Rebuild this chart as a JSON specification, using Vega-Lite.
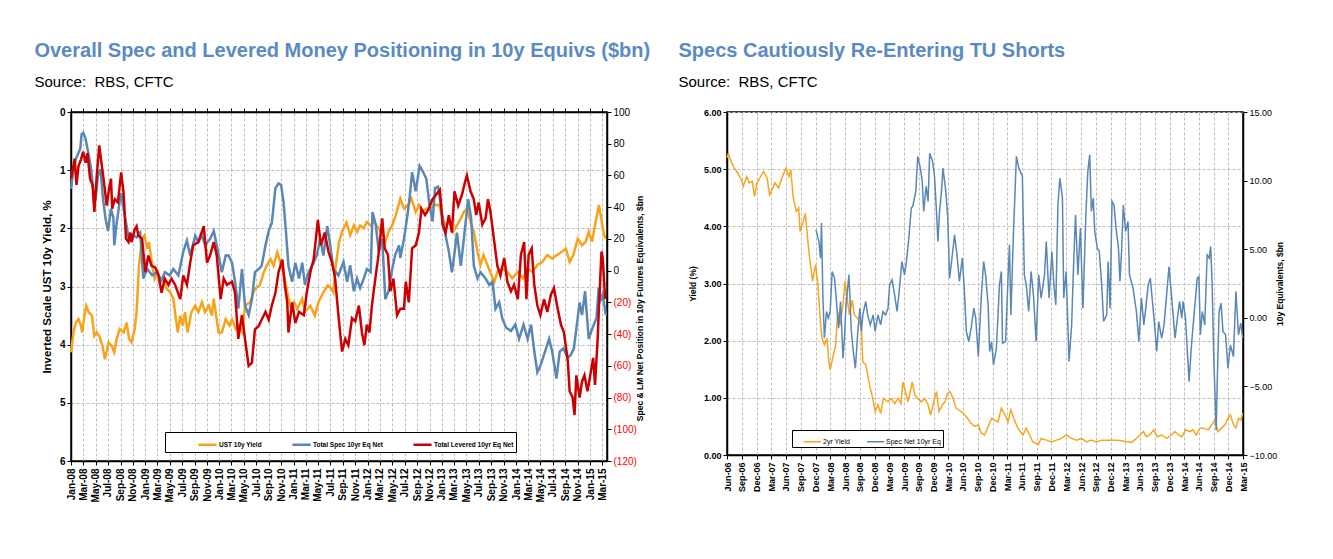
{
"$schema":"https://vega.github.io/schema/vega-lite/v6.json",
"padding":{"left":33,"top":40,"right":5,"bottom":5},
"config":{"font":"Liberation Sans","view":{"stroke":"black","strokeWidth":1.5},
 "axis":{"domainColor":"black","domainWidth":1.5,"tickColor":"black","labelColor":"black","titleColor":"black","labelFont":"Liberation Sans","titleFont":"Liberation Sans"},
 "title":{"anchor":"start","frame":"bounds","font":"Liberation Sans","fontSize":20,"fontWeight":"bold","color":"#5A8AC4","subtitleFont":"Liberation Sans","subtitleFontSize":15,"subtitleColor":"black","subtitlePadding":14,"dx":-7}},
"datasets":{
"ust":[{"date":"2008-01-01","v":4.13},{"date":"2008-01-13","v":3.79},{"date":"2008-01-25","v":3.62},{"date":"2008-02-07","v":3.56},{"date":"2008-02-19","v":3.67},{"date":"2008-02-25","v":3.79},{"date":"2008-03-07","v":3.5},{"date":"2008-03-16","v":3.33},{"date":"2008-03-28","v":3.44},{"date":"2008-04-13","v":3.5},{"date":"2008-04-25","v":3.85},{"date":"2008-05-07","v":3.79},{"date":"2008-05-19","v":3.85},{"date":"2008-06-04","v":4.02},{"date":"2008-06-16","v":4.25},{"date":"2008-07-04","v":3.96},{"date":"2008-07-19","v":4.02},{"date":"2008-08-01","v":4.13},{"date":"2008-08-13","v":3.9},{"date":"2008-08-28","v":3.73},{"date":"2008-09-16","v":3.79},{"date":"2008-10-01","v":3.62},{"date":"2008-10-13","v":3.9},{"date":"2008-10-25","v":3.96},{"date":"2008-11-10","v":3.73},{"date":"2008-11-19","v":3.44},{"date":"2008-12-01","v":2.64},{"date":"2008-12-16","v":2.18},{"date":"2008-12-28","v":2.12},{"date":"2009-01-10","v":2.35},{"date":"2009-01-19","v":2.24},{"date":"2009-02-04","v":2.64},{"date":"2009-02-16","v":2.87},{"date":"2009-03-04","v":2.76},{"date":"2009-03-13","v":2.93},{"date":"2009-04-01","v":2.87},{"date":"2009-04-16","v":3.04},{"date":"2009-05-04","v":3.1},{"date":"2009-05-19","v":3.21},{"date":"2009-06-01","v":3.56},{"date":"2009-06-10","v":3.79},{"date":"2009-06-22","v":3.5},{"date":"2009-07-04","v":3.67},{"date":"2009-07-16","v":3.44},{"date":"2009-07-28","v":3.79},{"date":"2009-08-16","v":3.44},{"date":"2009-09-04","v":3.33},{"date":"2009-09-19","v":3.44},{"date":"2009-10-07","v":3.27},{"date":"2009-10-22","v":3.44},{"date":"2009-11-10","v":3.33},{"date":"2009-11-25","v":3.5},{"date":"2009-12-04","v":3.21},{"date":"2009-12-16","v":3.5},{"date":"2009-12-28","v":3.79},{"date":"2010-01-13","v":3.79},{"date":"2010-02-01","v":3.56},{"date":"2010-02-19","v":3.67},{"date":"2010-03-04","v":3.56},{"date":"2010-03-22","v":3.73},{"date":"2010-04-07","v":3.67},{"date":"2010-04-25","v":3.79},{"date":"2010-05-07","v":3.33},{"date":"2010-06-01","v":3.27},{"date":"2010-06-25","v":3.04},{"date":"2010-07-19","v":2.98},{"date":"2010-08-07","v":2.76},{"date":"2010-08-22","v":2.64},{"date":"2010-09-10","v":2.53},{"date":"2010-09-25","v":2.64},{"date":"2010-10-13","v":2.41},{"date":"2010-10-28","v":2.58},{"date":"2010-11-13","v":2.76},{"date":"2010-12-01","v":3.1},{"date":"2010-12-16","v":3.33},{"date":"2011-01-04","v":3.27},{"date":"2011-01-19","v":3.39},{"date":"2011-02-13","v":3.21},{"date":"2011-02-26","v":3.44},{"date":"2011-03-25","v":3.33},{"date":"2011-04-16","v":3.5},{"date":"2011-05-04","v":3.27},{"date":"2011-05-28","v":3.1},{"date":"2011-06-19","v":2.98},{"date":"2011-07-07","v":3.04},{"date":"2011-07-16","v":3.1},{"date":"2011-07-28","v":2.64},{"date":"2011-08-13","v":2.24},{"date":"2011-08-28","v":2.06},{"date":"2011-09-19","v":1.9},{"date":"2011-10-07","v":2.12},{"date":"2011-10-25","v":1.95},{"date":"2011-11-10","v":2.06},{"date":"2011-11-25","v":1.95},{"date":"2011-12-13","v":2.0},{"date":"2011-12-28","v":1.89},{"date":"2012-01-16","v":1.95},{"date":"2012-02-01","v":1.89},{"date":"2012-02-25","v":2.0},{"date":"2012-03-13","v":2.12},{"date":"2012-03-28","v":2.23},{"date":"2012-04-13","v":2.06},{"date":"2012-05-01","v":1.95},{"date":"2012-05-19","v":1.77},{"date":"2012-06-10","v":1.49},{"date":"2012-06-28","v":1.66},{"date":"2012-07-19","v":1.6},{"date":"2012-08-04","v":1.49},{"date":"2012-08-25","v":1.72},{"date":"2012-09-10","v":1.6},{"date":"2012-09-25","v":1.72},{"date":"2012-10-16","v":1.66},{"date":"2012-11-07","v":1.66},{"date":"2012-11-22","v":1.6},{"date":"2012-12-19","v":1.6},{"date":"2013-01-04","v":1.83},{"date":"2013-01-19","v":1.95},{"date":"2013-02-10","v":1.89},{"date":"2013-02-25","v":2.06},{"date":"2013-03-16","v":1.95},{"date":"2013-04-04","v":1.83},{"date":"2013-04-19","v":1.72},{"date":"2013-05-04","v":1.66},{"date":"2013-05-22","v":1.89},{"date":"2013-06-07","v":2.06},{"date":"2013-06-25","v":2.4},{"date":"2013-07-10","v":2.63},{"date":"2013-07-25","v":2.46},{"date":"2013-08-13","v":2.63},{"date":"2013-09-01","v":2.8},{"date":"2013-09-16","v":2.92},{"date":"2013-10-01","v":2.75},{"date":"2013-10-25","v":2.69},{"date":"2013-11-19","v":2.75},{"date":"2013-12-13","v":2.86},{"date":"2014-01-10","v":2.75},{"date":"2014-02-04","v":2.86},{"date":"2014-02-27","v":2.69},{"date":"2014-03-22","v":2.75},{"date":"2014-04-16","v":2.63},{"date":"2014-05-10","v":2.58},{"date":"2014-06-04","v":2.46},{"date":"2014-06-28","v":2.52},{"date":"2014-07-22","v":2.46},{"date":"2014-08-16","v":2.4},{"date":"2014-09-04","v":2.35},{"date":"2014-09-22","v":2.58},{"date":"2014-10-10","v":2.46},{"date":"2014-11-01","v":2.18},{"date":"2014-11-22","v":2.29},{"date":"2014-12-10","v":2.23},{"date":"2014-12-25","v":2.06},{"date":"2015-01-10","v":2.23},{"date":"2015-01-25","v":1.95},{"date":"2015-02-13","v":1.6},{"date":"2015-02-25","v":1.83},{"date":"2015-03-04","v":2.0},{"date":"2015-03-16","v":2.18}],
"spec":[{"date":"2008-01-01","v":51.6},{"date":"2008-01-13","v":64},{"date":"2008-01-25","v":70.5},{"date":"2008-02-16","v":77},{"date":"2008-02-22","v":86},{"date":"2008-03-01","v":87},{"date":"2008-03-13","v":83},{"date":"2008-03-25","v":75},{"date":"2008-04-07","v":66},{"date":"2008-04-19","v":52},{"date":"2008-05-01","v":45},{"date":"2008-05-13","v":60},{"date":"2008-05-25","v":64},{"date":"2008-06-07","v":45},{"date":"2008-06-19","v":33},{"date":"2008-07-01","v":25},{"date":"2008-07-16","v":39},{"date":"2008-07-28","v":33},{"date":"2008-08-01","v":16},{"date":"2008-08-13","v":30},{"date":"2008-08-25","v":41},{"date":"2008-09-04","v":49},{"date":"2008-09-19","v":37},{"date":"2008-10-10","v":21},{"date":"2008-10-25","v":23},{"date":"2008-11-19","v":21},{"date":"2008-12-07","v":24},{"date":"2008-12-22","v":-5},{"date":"2009-01-10","v":1},{"date":"2009-02-04","v":-3},{"date":"2009-02-27","v":-1},{"date":"2009-03-22","v":-6},{"date":"2009-04-07","v":-1},{"date":"2009-05-01","v":-3},{"date":"2009-05-19","v":1},{"date":"2009-06-13","v":-3},{"date":"2009-07-07","v":12},{"date":"2009-07-25","v":19},{"date":"2009-08-10","v":9.5},{"date":"2009-09-04","v":22},{"date":"2009-09-19","v":18},{"date":"2009-10-07","v":22},{"date":"2009-10-22","v":16},{"date":"2009-11-16","v":20},{"date":"2009-12-04","v":25},{"date":"2009-12-19","v":16},{"date":"2010-01-13","v":-1},{"date":"2010-02-01","v":9.5},{"date":"2010-02-15","v":9.5},{"date":"2010-03-04","v":5},{"date":"2010-03-19","v":-7},{"date":"2010-04-04","v":-24},{"date":"2010-04-22","v":1},{"date":"2010-05-07","v":-22},{"date":"2010-05-25","v":-28},{"date":"2010-06-10","v":-18},{"date":"2010-06-25","v":-1},{"date":"2010-07-13","v":1},{"date":"2010-07-28","v":3},{"date":"2010-08-16","v":16},{"date":"2010-09-01","v":25},{"date":"2010-09-16","v":30},{"date":"2010-10-04","v":52},{"date":"2010-10-19","v":55},{"date":"2010-11-01","v":54},{"date":"2010-11-13","v":43},{"date":"2010-11-25","v":24},{"date":"2010-12-07","v":3},{"date":"2010-12-25","v":-7},{"date":"2011-01-10","v":5},{"date":"2011-01-28","v":-5},{"date":"2011-02-13","v":5},{"date":"2011-02-26","v":-9},{"date":"2011-03-16","v":-1},{"date":"2011-04-10","v":5},{"date":"2011-04-25","v":9.5},{"date":"2011-05-13","v":20},{"date":"2011-05-28","v":9.5},{"date":"2011-06-16","v":28},{"date":"2011-07-01","v":16},{"date":"2011-07-16","v":1},{"date":"2011-08-10","v":-3},{"date":"2011-09-04","v":5.5},{"date":"2011-09-22","v":-7},{"date":"2011-10-07","v":3.4},{"date":"2011-10-25","v":-13},{"date":"2011-11-10","v":-5},{"date":"2011-11-25","v":-11},{"date":"2011-12-13","v":-5},{"date":"2011-12-28","v":1},{"date":"2012-01-16","v":-1},{"date":"2012-01-25","v":37},{"date":"2012-02-10","v":29},{"date":"2012-02-25","v":12},{"date":"2012-03-13","v":20},{"date":"2012-03-28","v":-18},{"date":"2012-04-13","v":-13},{"date":"2012-05-01","v":1},{"date":"2012-05-16","v":10},{"date":"2012-06-04","v":16},{"date":"2012-06-10","v":8},{"date":"2012-06-28","v":20},{"date":"2012-07-13","v":33},{"date":"2012-07-25","v":45},{"date":"2012-08-07","v":62},{"date":"2012-08-25","v":50},{"date":"2012-09-13","v":66},{"date":"2012-10-01","v":62},{"date":"2012-10-16","v":58},{"date":"2012-11-01","v":41},{"date":"2012-11-16","v":31},{"date":"2012-11-28","v":52},{"date":"2012-12-13","v":53},{"date":"2013-01-01","v":37},{"date":"2013-01-16","v":24},{"date":"2013-02-04","v":12},{"date":"2013-02-19","v":-1},{"date":"2013-03-01","v":8},{"date":"2013-03-16","v":24},{"date":"2013-04-04","v":3},{"date":"2013-04-19","v":20},{"date":"2013-05-10","v":45},{"date":"2013-05-25","v":33},{"date":"2013-06-07","v":3},{"date":"2013-06-25","v":-5},{"date":"2013-07-10","v":-1},{"date":"2013-08-04","v":-5},{"date":"2013-08-22","v":-9},{"date":"2013-09-07","v":-7},{"date":"2013-09-22","v":-24},{"date":"2013-10-10","v":-20},{"date":"2013-10-25","v":-30},{"date":"2013-11-13","v":-36},{"date":"2013-12-07","v":-38},{"date":"2013-12-28","v":-34},{"date":"2014-01-16","v":-43},{"date":"2014-02-07","v":-34},{"date":"2014-02-27","v":-43},{"date":"2014-03-16","v":-34},{"date":"2014-04-01","v":-51},{"date":"2014-04-16","v":-64},{"date":"2014-05-01","v":-60},{"date":"2014-05-19","v":-53},{"date":"2014-06-13","v":-43},{"date":"2014-06-28","v":-51},{"date":"2014-07-19","v":-68},{"date":"2014-08-04","v":-51},{"date":"2014-08-22","v":-49},{"date":"2014-09-13","v":-55},{"date":"2014-09-28","v":-53},{"date":"2014-10-13","v":-49},{"date":"2014-11-10","v":-20},{"date":"2014-11-22","v":-28},{"date":"2014-12-07","v":-13},{"date":"2014-12-25","v":-43},{"date":"2015-01-13","v":-36},{"date":"2015-02-01","v":-30},{"date":"2015-02-12","v":-11},{"date":"2015-02-23","v":-18},{"date":"2015-03-04","v":-15},{"date":"2015-03-19","v":-28}],
"lev":[{"date":"2008-01-01","v":58},{"date":"2008-01-13","v":66},{"date":"2008-01-19","v":70.5},{"date":"2008-01-28","v":54},{"date":"2008-02-07","v":66},{"date":"2008-02-19","v":70},{"date":"2008-03-01","v":75},{"date":"2008-03-13","v":68},{"date":"2008-03-22","v":74},{"date":"2008-04-04","v":58},{"date":"2008-04-16","v":54},{"date":"2008-04-25","v":37},{"date":"2008-05-07","v":60},{"date":"2008-05-19","v":79},{"date":"2008-06-01","v":66},{"date":"2008-06-13","v":54},{"date":"2008-06-25","v":41},{"date":"2008-07-07","v":52},{"date":"2008-07-16","v":58},{"date":"2008-07-22","v":39},{"date":"2008-08-04","v":45},{"date":"2008-08-19","v":43},{"date":"2008-09-04","v":62},{"date":"2008-09-16","v":49},{"date":"2008-09-28","v":20},{"date":"2008-10-10","v":18},{"date":"2008-10-19","v":24},{"date":"2008-10-25","v":18},{"date":"2008-11-10","v":26},{"date":"2008-11-19","v":28},{"date":"2008-11-28","v":22},{"date":"2008-12-16","v":20},{"date":"2009-01-01","v":-1},{"date":"2009-01-16","v":9.5},{"date":"2009-02-01","v":3},{"date":"2009-02-19","v":2},{"date":"2009-03-07","v":-3},{"date":"2009-03-22","v":-14},{"date":"2009-04-07","v":-5},{"date":"2009-04-25","v":-9},{"date":"2009-05-10","v":-5},{"date":"2009-05-28","v":-9},{"date":"2009-06-22","v":-18},{"date":"2009-07-07","v":-3},{"date":"2009-07-25","v":-9},{"date":"2009-08-10","v":5},{"date":"2009-08-25","v":16},{"date":"2009-09-19","v":18},{"date":"2009-10-16","v":28},{"date":"2009-11-01","v":5},{"date":"2009-11-16","v":9.5},{"date":"2009-12-04","v":18},{"date":"2009-12-19","v":9.5},{"date":"2010-01-07","v":-18},{"date":"2010-01-22","v":-5},{"date":"2010-02-07","v":-9},{"date":"2010-03-04","v":-7},{"date":"2010-03-19","v":-14},{"date":"2010-04-04","v":-43},{"date":"2010-04-22","v":-28},{"date":"2010-05-07","v":-43},{"date":"2010-05-25","v":-60},{"date":"2010-06-10","v":-58},{"date":"2010-06-25","v":-37},{"date":"2010-07-13","v":-35},{"date":"2010-07-28","v":-31},{"date":"2010-08-16","v":-26},{"date":"2010-09-01","v":-31},{"date":"2010-09-16","v":-22},{"date":"2010-10-04","v":-14},{"date":"2010-10-19","v":-1},{"date":"2010-11-07","v":7},{"date":"2010-11-19","v":-9},{"date":"2010-12-01","v":-20},{"date":"2010-12-07","v":-39},{"date":"2010-12-25","v":-20},{"date":"2011-01-10","v":-33},{"date":"2011-01-28","v":-26},{"date":"2011-02-21","v":-28},{"date":"2011-03-07","v":-14},{"date":"2011-03-25","v":-1},{"date":"2011-04-10","v":7},{"date":"2011-05-01","v":32},{"date":"2011-05-16","v":16},{"date":"2011-06-04","v":24},{"date":"2011-06-22","v":12},{"date":"2011-07-10","v":5},{"date":"2011-07-25","v":-5},{"date":"2011-08-10","v":-28},{"date":"2011-08-28","v":-51},{"date":"2011-09-13","v":-43},{"date":"2011-09-28","v":-47},{"date":"2011-10-16","v":-30},{"date":"2011-11-01","v":-32},{"date":"2011-11-19","v":-22},{"date":"2011-12-04","v":-39},{"date":"2011-12-16","v":-47},{"date":"2011-12-28","v":-34},{"date":"2012-01-10","v":-39},{"date":"2012-01-22","v":-22},{"date":"2012-02-10","v":-3},{"date":"2012-02-22","v":8},{"date":"2012-03-13","v":33},{"date":"2012-03-25","v":14},{"date":"2012-04-10","v":10},{"date":"2012-04-22","v":-13},{"date":"2012-05-07","v":-5},{"date":"2012-05-25","v":-28},{"date":"2012-06-10","v":-24},{"date":"2012-06-28","v":-24},{"date":"2012-07-07","v":-7},{"date":"2012-07-22","v":-20},{"date":"2012-08-07","v":14},{"date":"2012-08-25","v":16},{"date":"2012-09-10","v":24},{"date":"2012-09-22","v":39},{"date":"2012-10-10","v":35},{"date":"2012-10-28","v":39},{"date":"2012-11-16","v":45},{"date":"2012-12-04","v":48},{"date":"2012-12-22","v":51},{"date":"2013-01-04","v":29},{"date":"2013-01-19","v":24},{"date":"2013-02-04","v":35},{"date":"2013-02-19","v":24},{"date":"2013-03-04","v":50},{"date":"2013-03-22","v":41},{"date":"2013-04-10","v":48},{"date":"2013-04-25","v":56},{"date":"2013-05-04","v":60},{"date":"2013-05-22","v":50},{"date":"2013-06-07","v":45},{"date":"2013-06-19","v":35},{"date":"2013-07-01","v":43},{"date":"2013-07-19","v":29},{"date":"2013-08-04","v":33},{"date":"2013-08-16","v":45},{"date":"2013-08-28","v":37},{"date":"2013-09-16","v":18},{"date":"2013-10-01","v":3},{"date":"2013-10-16","v":-3},{"date":"2013-11-04","v":8},{"date":"2013-11-19","v":-7},{"date":"2013-12-07","v":-13},{"date":"2013-12-22","v":-9},{"date":"2014-01-10","v":-18},{"date":"2014-01-25","v":10},{"date":"2014-02-10","v":18},{"date":"2014-02-21","v":-18},{"date":"2014-03-04","v":10},{"date":"2014-03-19","v":14},{"date":"2014-04-01","v":-9},{"date":"2014-04-16","v":-22},{"date":"2014-05-01","v":-28},{"date":"2014-05-19","v":-18},{"date":"2014-06-04","v":-26},{"date":"2014-06-22","v":-15},{"date":"2014-07-07","v":-11},{"date":"2014-07-22","v":-22},{"date":"2014-08-10","v":-34},{"date":"2014-08-25","v":-39},{"date":"2014-09-13","v":-57},{"date":"2014-09-22","v":-76},{"date":"2014-10-07","v":-80},{"date":"2014-10-16","v":-91},{"date":"2014-10-25","v":-66},{"date":"2014-11-10","v":-80},{"date":"2014-11-22","v":-70},{"date":"2014-12-04","v":-66},{"date":"2014-12-19","v":-76},{"date":"2015-01-04","v":-64},{"date":"2015-01-16","v":-55},{"date":"2015-01-25","v":-72},{"date":"2015-02-07","v":-43},{"date":"2015-02-15","v":-18},{"date":"2015-02-26","v":12},{"date":"2015-03-04","v":8},{"date":"2015-03-16","v":-18}],
"y2":[{"date":"2006-06-01","v":5.2},{"date":"2006-06-10","v":5.28},{"date":"2006-06-25","v":5.14},{"date":"2006-07-16","v":5.02},{"date":"2006-08-07","v":4.93},{"date":"2006-08-28","v":4.82},{"date":"2006-09-10","v":4.7},{"date":"2006-10-01","v":4.87},{"date":"2006-10-16","v":4.76},{"date":"2006-11-04","v":4.79},{"date":"2006-11-19","v":4.52},{"date":"2006-12-01","v":4.73},{"date":"2006-12-22","v":4.85},{"date":"2007-01-13","v":4.96},{"date":"2007-02-04","v":4.85},{"date":"2007-02-19","v":4.55},{"date":"2007-03-07","v":4.64},{"date":"2007-03-25","v":4.76},{"date":"2007-04-16","v":4.67},{"date":"2007-05-07","v":4.85},{"date":"2007-06-01","v":5.02},{"date":"2007-06-19","v":4.87},{"date":"2007-07-01","v":4.99},{"date":"2007-07-16","v":4.5},{"date":"2007-08-04","v":4.26},{"date":"2007-08-19","v":4.32},{"date":"2007-08-28","v":3.91},{"date":"2007-09-13","v":4.06},{"date":"2007-09-29","v":4.23},{"date":"2007-10-13","v":3.79},{"date":"2007-10-28","v":3.39},{"date":"2007-11-13","v":3.04},{"date":"2007-12-01","v":3.33},{"date":"2007-12-16","v":2.98},{"date":"2007-12-28","v":2.45},{"date":"2008-01-10","v":2.04},{"date":"2008-01-25","v":1.93},{"date":"2008-02-10","v":2.04},{"date":"2008-02-22","v":1.63},{"date":"2008-03-01","v":1.49},{"date":"2008-03-16","v":1.69},{"date":"2008-04-04","v":1.93},{"date":"2008-04-16","v":2.51},{"date":"2008-05-01","v":2.28},{"date":"2008-05-19","v":2.63},{"date":"2008-06-01","v":3.04},{"date":"2008-06-19","v":2.63},{"date":"2008-06-28","v":2.45},{"date":"2008-07-16","v":2.71},{"date":"2008-07-28","v":2.45},{"date":"2008-08-19","v":2.39},{"date":"2008-09-10","v":2.22},{"date":"2008-09-19","v":1.63},{"date":"2008-10-07","v":1.58},{"date":"2008-10-19","v":1.4},{"date":"2008-11-04","v":1.17},{"date":"2008-11-22","v":0.96},{"date":"2008-12-04","v":0.76},{"date":"2008-12-22","v":0.88},{"date":"2009-01-07","v":0.73},{"date":"2009-01-25","v":0.99},{"date":"2009-02-22","v":0.93},{"date":"2009-03-13","v":0.99},{"date":"2009-04-04","v":0.9},{"date":"2009-04-25","v":0.99},{"date":"2009-05-13","v":0.9},{"date":"2009-05-25","v":1.28},{"date":"2009-06-10","v":1.11},{"date":"2009-06-25","v":0.93},{"date":"2009-07-10","v":1.11},{"date":"2009-07-22","v":1.28},{"date":"2009-08-07","v":1.05},{"date":"2009-08-25","v":0.99},{"date":"2009-09-16","v":0.93},{"date":"2009-10-07","v":0.99},{"date":"2009-10-28","v":0.88},{"date":"2009-11-13","v":0.7},{"date":"2009-11-28","v":0.88},{"date":"2009-12-19","v":1.11},{"date":"2010-01-04","v":0.76},{"date":"2010-01-25","v":0.88},{"date":"2010-02-10","v":0.93},{"date":"2010-02-27","v":1.08},{"date":"2010-03-13","v":1.11},{"date":"2010-04-01","v":0.99},{"date":"2010-04-19","v":0.82},{"date":"2010-05-22","v":0.76},{"date":"2010-06-22","v":0.67},{"date":"2010-07-22","v":0.55},{"date":"2010-08-13","v":0.5},{"date":"2010-09-04","v":0.53},{"date":"2010-09-22","v":0.38},{"date":"2010-10-13","v":0.35},{"date":"2010-11-04","v":0.5},{"date":"2010-11-25","v":0.64},{"date":"2010-12-13","v":0.61},{"date":"2011-01-04","v":0.58},{"date":"2011-01-25","v":0.82},{"date":"2011-02-16","v":0.7},{"date":"2011-03-07","v":0.58},{"date":"2011-03-25","v":0.79},{"date":"2011-04-16","v":0.61},{"date":"2011-05-07","v":0.47},{"date":"2011-06-07","v":0.35},{"date":"2011-06-28","v":0.47},{"date":"2011-07-19","v":0.35},{"date":"2011-08-07","v":0.23},{"date":"2011-09-10","v":0.18},{"date":"2011-09-28","v":0.29},{"date":"2011-11-01","v":0.26},{"date":"2011-12-01","v":0.23},{"date":"2012-01-01","v":0.26},{"date":"2012-02-01","v":0.29},{"date":"2012-03-01","v":0.35},{"date":"2012-04-04","v":0.29},{"date":"2012-05-04","v":0.26},{"date":"2012-06-04","v":0.29},{"date":"2012-07-04","v":0.23},{"date":"2012-08-04","v":0.26},{"date":"2012-09-04","v":0.23},{"date":"2012-10-07","v":0.26},{"date":"2012-11-07","v":0.26},{"date":"2012-12-07","v":0.26},{"date":"2013-01-07","v":0.26},{"date":"2013-02-07","v":0.25},{"date":"2013-03-10","v":0.23},{"date":"2013-04-10","v":0.22},{"date":"2013-05-10","v":0.29},{"date":"2013-06-01","v":0.35},{"date":"2013-06-22","v":0.41},{"date":"2013-07-10","v":0.32},{"date":"2013-08-01","v":0.35},{"date":"2013-08-25","v":0.44},{"date":"2013-09-16","v":0.32},{"date":"2013-10-13","v":0.35},{"date":"2013-11-13","v":0.29},{"date":"2013-12-13","v":0.35},{"date":"2014-01-04","v":0.41},{"date":"2014-01-25","v":0.35},{"date":"2014-02-15","v":0.32},{"date":"2014-03-10","v":0.44},{"date":"2014-04-07","v":0.41},{"date":"2014-04-25","v":0.44},{"date":"2014-05-16","v":0.35},{"date":"2014-06-07","v":0.47},{"date":"2014-06-28","v":0.47},{"date":"2014-07-28","v":0.44},{"date":"2014-08-19","v":0.53},{"date":"2014-09-07","v":0.61},{"date":"2014-09-28","v":0.41},{"date":"2014-10-19","v":0.47},{"date":"2014-11-10","v":0.53},{"date":"2014-11-28","v":0.64},{"date":"2014-12-13","v":0.7},{"date":"2015-01-01","v":0.53},{"date":"2015-01-16","v":0.47},{"date":"2015-02-01","v":0.64},{"date":"2015-02-15","v":0.61},{"date":"2015-02-27","v":0.73}],
"sn":[{"date":"2007-12-04","v":6.42},{"date":"2007-12-22","v":5.56},{"date":"2008-01-01","v":4.35},{"date":"2008-01-07","v":6.9},{"date":"2008-01-16","v":1.43},{"date":"2008-01-25","v":-1.49},{"date":"2008-02-07","v":0.46},{"date":"2008-02-18","v":-0.03},{"date":"2008-03-01","v":0.46},{"date":"2008-03-13","v":3.38},{"date":"2008-03-28","v":2.89},{"date":"2008-04-07","v":1.43},{"date":"2008-04-22","v":-0.76},{"date":"2008-05-04","v":1.19},{"date":"2008-05-19","v":-2.95},{"date":"2008-05-28","v":-1.49},{"date":"2008-06-07","v":0.94},{"date":"2008-06-25","v":3.13},{"date":"2008-07-10","v":-1.0},{"date":"2008-07-22","v":-2.46},{"date":"2008-08-04","v":-3.68},{"date":"2008-08-19","v":-1.0},{"date":"2008-09-01","v":0.7},{"date":"2008-09-10","v":-1.0},{"date":"2008-09-19","v":0.21},{"date":"2008-10-07","v":1.19},{"date":"2008-10-19","v":0.21},{"date":"2008-11-04","v":-0.52},{"date":"2008-11-22","v":0.21},{"date":"2008-12-04","v":-1.0},{"date":"2008-12-22","v":0.21},{"date":"2009-01-07","v":-0.52},{"date":"2009-01-22","v":0.46},{"date":"2009-02-07","v":0.21},{"date":"2009-02-22","v":0.7},{"date":"2009-03-04","v":2.4},{"date":"2009-03-19","v":2.77},{"date":"2009-04-04","v":1.67},{"date":"2009-04-19","v":0.46},{"date":"2009-05-04","v":2.16},{"date":"2009-05-19","v":4.1},{"date":"2009-06-04","v":3.13},{"date":"2009-06-16","v":4.1},{"date":"2009-07-01","v":5.81},{"date":"2009-07-16","v":8.0},{"date":"2009-07-25","v":8.12},{"date":"2009-08-13","v":9.21},{"date":"2009-08-25","v":11.77},{"date":"2009-09-10","v":10.91},{"date":"2009-09-22","v":9.94},{"date":"2009-10-01","v":7.75},{"date":"2009-10-16","v":9.58},{"date":"2009-10-28","v":8.48},{"date":"2009-11-07","v":12.0},{"date":"2009-11-25","v":11.4},{"date":"2009-12-07","v":10.3},{"date":"2009-12-19","v":7.75},{"date":"2009-12-28","v":5.56},{"date":"2010-01-07","v":7.75},{"date":"2010-01-19","v":9.21},{"date":"2010-01-28","v":10.91},{"date":"2010-02-15","v":9.21},{"date":"2010-02-27","v":7.27},{"date":"2010-03-10","v":2.89},{"date":"2010-03-25","v":4.35},{"date":"2010-04-10","v":6.05},{"date":"2010-04-25","v":4.59},{"date":"2010-05-10","v":2.65},{"date":"2010-05-28","v":4.35},{"date":"2010-06-10","v":1.92},{"date":"2010-06-22","v":-1.0},{"date":"2010-07-07","v":-1.73},{"date":"2010-07-22","v":-0.76},{"date":"2010-08-07","v":0.7},{"date":"2010-08-19","v":-0.03},{"date":"2010-09-04","v":-2.83},{"date":"2010-09-22","v":1.43},{"date":"2010-10-07","v":4.1},{"date":"2010-10-19","v":3.13},{"date":"2010-11-04","v":0.94},{"date":"2010-11-13","v":-2.46},{"date":"2010-11-25","v":-1.73},{"date":"2010-12-07","v":-3.43},{"date":"2010-12-25","v":-2.22},{"date":"2011-01-13","v":2.4},{"date":"2011-01-25","v":3.38},{"date":"2011-02-01","v":-1.85},{"date":"2011-02-20","v":-1.73},{"date":"2011-03-07","v":2.89},{"date":"2011-03-16","v":5.32},{"date":"2011-03-25","v":0.21},{"date":"2011-04-10","v":6.29},{"date":"2011-04-28","v":11.77},{"date":"2011-05-13","v":10.91},{"date":"2011-06-04","v":10.3},{"date":"2011-06-16","v":3.13},{"date":"2011-06-28","v":2.4},{"date":"2011-07-13","v":0.46},{"date":"2011-07-28","v":3.38},{"date":"2011-08-13","v":1.43},{"date":"2011-08-28","v":-1.73},{"date":"2011-09-13","v":3.13},{"date":"2011-09-28","v":1.43},{"date":"2011-10-19","v":3.13},{"date":"2011-10-30","v":5.56},{"date":"2011-11-16","v":1.43},{"date":"2011-12-04","v":4.83},{"date":"2011-12-16","v":2.4},{"date":"2011-12-28","v":0.94},{"date":"2012-01-10","v":8.24},{"date":"2012-01-22","v":10.19},{"date":"2012-02-07","v":8.73},{"date":"2012-02-15","v":1.43},{"date":"2012-03-01","v":3.38},{"date":"2012-03-19","v":-3.19},{"date":"2012-04-04","v":-0.52},{"date":"2012-04-16","v":3.86},{"date":"2012-04-28","v":7.51},{"date":"2012-05-13","v":3.13},{"date":"2012-05-28","v":6.54},{"date":"2012-06-13","v":0.7},{"date":"2012-07-01","v":7.51},{"date":"2012-07-13","v":10.67},{"date":"2012-07-25","v":11.89},{"date":"2012-08-04","v":7.75},{"date":"2012-08-16","v":8.73},{"date":"2012-08-25","v":6.29},{"date":"2012-09-10","v":5.08},{"date":"2012-09-22","v":4.83},{"date":"2012-10-07","v":2.4},{"date":"2012-10-19","v":-0.27},{"date":"2012-11-07","v":0.21},{"date":"2012-11-16","v":4.1},{"date":"2012-11-28","v":0.7},{"date":"2012-12-10","v":8.48},{"date":"2012-12-22","v":8.24},{"date":"2013-01-04","v":6.54},{"date":"2013-01-19","v":5.08},{"date":"2013-01-28","v":2.65},{"date":"2013-02-07","v":4.83},{"date":"2013-02-18","v":8.24},{"date":"2013-03-04","v":6.29},{"date":"2013-03-19","v":7.02},{"date":"2013-03-28","v":3.13},{"date":"2013-04-19","v":2.16},{"date":"2013-05-10","v":0.46},{"date":"2013-05-25","v":-1.73},{"date":"2013-06-10","v":1.43},{"date":"2013-06-25","v":-0.52},{"date":"2013-07-07","v":0.7},{"date":"2013-07-22","v":2.4},{"date":"2013-08-04","v":2.89},{"date":"2013-08-25","v":0.21},{"date":"2013-09-13","v":-2.46},{"date":"2013-09-25","v":-0.27},{"date":"2013-10-13","v":-1.49},{"date":"2013-10-28","v":-0.52},{"date":"2013-11-13","v":1.67},{"date":"2013-11-28","v":3.74},{"date":"2013-12-13","v":1.67},{"date":"2014-01-04","v":-1.49},{"date":"2014-01-19","v":-0.03},{"date":"2014-02-01","v":1.19},{"date":"2014-02-15","v":-0.03},{"date":"2014-02-23","v":1.19},{"date":"2014-03-10","v":-0.03},{"date":"2014-04-01","v":-4.65},{"date":"2014-04-16","v":-1.98},{"date":"2014-05-07","v":0.94},{"date":"2014-05-22","v":2.89},{"date":"2014-06-01","v":3.01},{"date":"2014-06-10","v":-1.24},{"date":"2014-06-22","v":0.46},{"date":"2014-07-07","v":-0.52},{"date":"2014-07-22","v":4.59},{"date":"2014-08-04","v":4.35},{"date":"2014-08-13","v":5.2},{"date":"2014-08-22","v":2.4},{"date":"2014-09-01","v":-2.95},{"date":"2014-09-16","v":-8.18},{"date":"2014-09-22","v":-4.89},{"date":"2014-10-04","v":0.46},{"date":"2014-10-16","v":1.07},{"date":"2014-10-28","v":-1.0},{"date":"2014-11-13","v":-1.24},{"date":"2014-11-28","v":-3.68},{"date":"2014-12-13","v":-1.98},{"date":"2015-01-01","v":-2.83},{"date":"2015-01-16","v":1.92},{"date":"2015-02-01","v":-1.24},{"date":"2015-02-15","v":-0.39},{"date":"2015-02-27","v":-1.49}]
},
"hconcat":[
{"width":536,"height":349,
 "title":{"text":"Overall Spec and Levered Money Positioning in 10y Equivs ($bn)","subtitle":"Source:\u00a0 RBS, CFTC","offset":17},
 "layer":[
  {"data":{"name":"ust"},"mark":{"type":"line","strokeWidth":2.5},
   "encoding":{
    "x":{"field":"date","type":"temporal","scale":{"type":"utc","nice":false,"domain":[{"year":2008,"month":1,"date":1,"utc":true},{"year":2015,"month":3,"date":25,"utc":true}]},
      "axis":{"title":null,"format":"%b-%y","tickCount":{"interval":"month","step":2},"labelAngle":270,"labelFontSize":10,"labelFontWeight":"bold","labelOverlap":false,"labelPadding":3,"tickSize":4,"grid":true,"gridColor":"#BDBDBD","gridDash":[3,2]}},
    "y":{"field":"v","type":"quantitative","scale":{"domain":[0,6],"reverse":true,"nice":false,"zero":false},
      "axis":{"title":"Inverted Scale UST 10y Yield, %","titleFontSize":11.5,"titleFontWeight":"bold","titlePadding":7,"values":[0,1,2,3,4,5,6],"format":"d","labelFontSize":10,"labelFontWeight":"bold","labelOverlap":false,"tickSize":4,"grid":true,"gridColor":"#BDBDBD","gridDash":[3,2]}},
    "color":{"datum":"UST 10y Yield","type":"nominal","scale":{"domain":["UST 10y Yield","Total Spec 10yr Eq Net","Total Levered 10yr Eq Net"],"range":["#F8A31B","#5A87B6","#CC0000"]},
      "legend":{"orient":"none","legendX":94,"legendY":320,"direction":"horizontal","title":" ","titleOrient":"left","titlePadding":30,"titleFontSize":6,"strokeColor":"black","fillColor":"white","padding":2,"symbolType":"stroke","symbolSize":330,"symbolStrokeWidth":2.5,"labelFontSize":6.5,"labelFontWeight":"bold","labelOffset":1,"columnPadding":25}}}},
  {"layer":[
   {"data":{"name":"spec"},"mark":{"type":"line","strokeWidth":2.5},
    "encoding":{
     "x":{"field":"date","type":"temporal","axis":{"orient":"top","labels":false,"title":null,"tickCount":{"interval":"month","step":2},"tickSize":4,"grid":false}},
     "y":{"field":"v","type":"quantitative","scale":{"domain":[-120,100],"nice":false,"zero":false},
       "axis":{"orient":"right","title":"Spec & LM Net Position in 10y Futures Equivalents, $bn","titleAngle":270,"titleFontSize":8.5,"titleFontWeight":"bold","titlePadding":8,"titleY":196,"values":[-120,-100,-80,-60,-40,-20,0,20,40,60,80,100],"labelOverlap":false,"labelExpr":"datum.value < 0 ? '(' + abs(datum.value) + ')' : datum.label","labelColor":{"condition":{"test":"datum.value < 0","value":"#FF0000"},"value":"black"},"labelFontSize":10,"tickSize":4,"grid":false}},
     "color":{"datum":"Total Spec 10yr Eq Net","type":"nominal"}}},
   {"data":{"name":"lev"},"mark":{"type":"line","strokeWidth":2.5},
    "encoding":{
     "x":{"field":"date","type":"temporal","axis":{"orient":"top","labels":false,"title":null,"tickCount":{"interval":"month","step":2},"tickSize":4,"grid":false}},
     "y":{"field":"v","type":"quantitative",
       "axis":{"orient":"right","title":"Spec & LM Net Position in 10y Futures Equivalents, $bn","titleAngle":270,"titleFontSize":8.5,"titleFontWeight":"bold","titlePadding":8,"titleY":196,"values":[-120,-100,-80,-60,-40,-20,0,20,40,60,80,100],"labelOverlap":false,"labelExpr":"datum.value < 0 ? '(' + abs(datum.value) + ')' : datum.label","labelColor":{"condition":{"test":"datum.value < 0","value":"#FF0000"},"value":"black"},"labelFontSize":10,"tickSize":4,"grid":false}},
     "color":{"datum":"Total Levered 10yr Eq Net","type":"nominal"}}}
  ]}
 ],
 "resolve":{"scale":{"y":"independent"},"axis":{"x":"independent","y":"independent"}}
},
{"width":516,"height":343,
 "title":{"text":"Specs Cautiously Re-Entering TU Shorts","subtitle":"Source:\u00a0 RBS, CFTC","offset":18,"dx":-10},
 "layer":[
  {"data":{"name":"y2"},"mark":{"type":"line","strokeWidth":1.5},
   "encoding":{
    "x":{"field":"date","type":"temporal","scale":{"type":"utc","nice":false,"domain":[1149120000000,1425168000000]},
      "axis":{"title":null,"format":"%b-%y","values":[1149120000000,1157068800000,1164931200000,1172707200000,1180656000000,1188604800000,1196467200000,1204329600000,1212278400000,1220227200000,1228089600000,1235865600000,1243814400000,1251763200000,1259625600000,1267401600000,1275350400000,1283299200000,1291161600000,1298937600000,1306886400000,1314835200000,1322697600000,1330560000000,1338508800000,1346457600000,1354320000000,1362096000000,1370044800000,1377993600000,1385856000000,1393632000000,1401580800000,1409529600000,1417392000000,1425168000000],
       "labelAngle":270,"labelFontSize":9,"labelFontWeight":"bold","labelOverlap":false,"labelPadding":3,"tickSize":4,"grid":true,"gridColor":"#BDBDBD","gridDash":[3,2]}},
    "y":{"field":"v","type":"quantitative","scale":{"domain":[0,6],"nice":false,"zero":false},
      "axis":{"title":"Yield (%)","titleFontSize":8.5,"titleFontWeight":"bold","titlePadding":6,"values":[0,1,2,3,4,5,6],"format":".2f","labelFontSize":9,"labelFontWeight":"bold","labelOverlap":false,"tickSize":4,"grid":true,"gridColor":"#BDBDBD","gridDash":[3,2]}},
    "color":{"datum":"2yr Yield","type":"nominal","scale":{"domain":["2yr Yield","Spec Net 10yr Eq"],"range":["#F7A521","#5A87B6"]},
      "legend":{"orient":"none","legendX":65,"legendY":318,"direction":"horizontal","title":" ","titleOrient":"left","titlePadding":9,"titleFontSize":6,"strokeColor":"black","fillColor":"white","padding":2,"symbolType":"stroke","symbolSize":290,"symbolStrokeWidth":1.5,"labelFontSize":7,"labelOffset":1,"columnPadding":13}}}},
  {"data":{"name":"sn"},"mark":{"type":"line","strokeWidth":1.5},
   "encoding":{
    "x":{"field":"date","type":"temporal","axis":{"title":null,"format":"%b-%y","values":[1149120000000,1157068800000,1164931200000,1172707200000,1180656000000,1188604800000,1196467200000,1204329600000,1212278400000,1220227200000,1228089600000,1235865600000,1243814400000,1251763200000,1259625600000,1267401600000,1275350400000,1283299200000,1291161600000,1298937600000,1306886400000,1314835200000,1322697600000,1330560000000,1338508800000,1346457600000,1354320000000,1362096000000,1370044800000,1377993600000,1385856000000,1393632000000,1401580800000,1409529600000,1417392000000,1425168000000],
       "labelAngle":270,"labelFontSize":9,"labelFontWeight":"bold","labelOverlap":false,"labelPadding":3,"tickSize":4,"grid":true,"gridColor":"#BDBDBD","gridDash":[3,2]}},
    "y":{"field":"v","type":"quantitative","scale":{"domain":[-10,15],"nice":false,"zero":false},
      "axis":{"orient":"right","title":"10y Equivalents, $bn","titleAngle":270,"titleFontSize":8.5,"titleFontWeight":"bold","titlePadding":8,"values":[-10,-5,0,5,10,15],"format":".2f","labelFontSize":9,"labelOverlap":false,"tickSize":4,"grid":false}},
    "color":{"datum":"Spec Net 10yr Eq","type":"nominal"}}}
 ],
 "resolve":{"scale":{"y":"independent"}}
}
],
"spacing":26,
"resolve":{"scale":{"color":"independent","x":"independent","y":"independent"},"legend":{"color":"independent"}}
}
